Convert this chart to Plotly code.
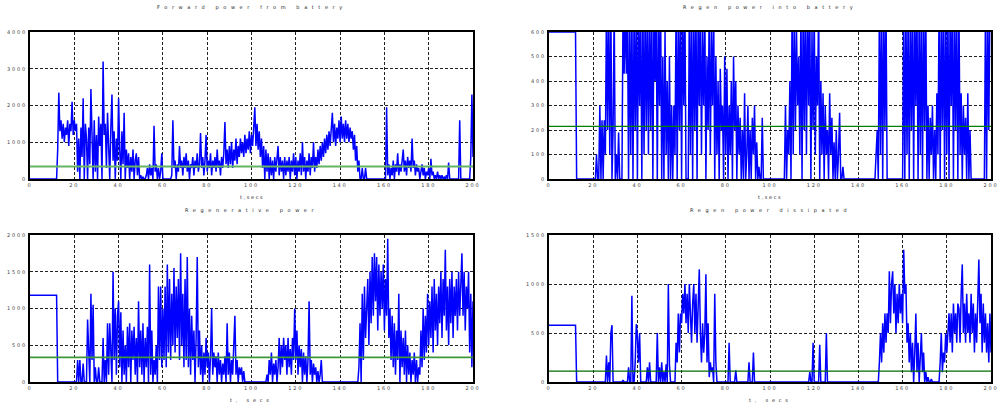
import plotly.graph_objects as go

# ---------------- data (sampled every 0.5 s, t = 0 ... 200 s) ----------------
fwd_power = [
    0, 0, 0, 0, 0, 0, 0, 0, 0, 0,                       # 0-4.5
    0, 0, 0, 0, 0, 0, 0, 0, 0, 0,                       # 5-9.5
    0, 0, 0, 0, 0, 800, 2350, 1300, 1600, 1100,         # 10-14.5
    1500, 1000, 1400, 1200, 1600, 900, 1500, 1300, 2100, 1200,
    1600, 1300, 1500, 200, 1100, 0, 1400, 600, 2200, 0,
    1500, 1100, 0, 1400, 400, 2450, 1300, 0, 1600, 200,
    1200, 0, 1700, 900, 1500, 0, 3200, 1200, 1500, 300,
    1800, 900, 0, 1400, 2300, 500, 1300, 0, 1100, 500,
    2200, 800, 0, 1300, 400, 1800, 0, 800, 300, 700,    # 40
    0, 600, 200, 800, 0, 500, 700, 100, 600, 0,
    100, 0, 50, 0, 0, 100, 300, 0, 400, 100,            # 50
    300, 0, 1450, 200, 400, 0, 300, 0, 200, 700,
    0, 0, 0, 0, 0, 0, 0, 0, 100, 1600,                  # 60
    300, 500, 0, 400, 200, 900, 300, 500, 100, 600,
    300, 700, 200, 500, 0, 400, 300, 600, 100, 500,     # 70
    300, 700, 200, 400, 1250, 300, 600, 100, 500, 1200,
    200, 500, 300, 700, 100, 500, 300, 600, 200, 800,   # 80
    300, 500, 100, 600, 300, 700, 1550, 400, 800, 300,
    900, 400, 1000, 300, 800, 500, 1100, 400, 900, 600, # 90
    1100, 700, 1000, 600, 1200, 700, 1100, 800, 1300, 700,
    1200, 900, 1400, 1950, 900, 1500, 800, 1300, 600, 1100,  # 100
    300, 900, 0, 800, 200, 700, 0, 600, 100, 500,
    0, 600, 200, 500, 900, 100, 600, 200, 500, 0,       # 110
    600, 100, 500, 200, 600, 0, 500, 200, 700, 100,
    600, 0, 500, 200, 700, 100, 1000, 200, 600, 0,      # 120
    500, 200, 700, 100, 600, 300, 1000, 200, 600, 300,
    800, 400, 900, 500, 1000, 600, 1100, 700, 1200, 800,  # 130
    1300, 900, 1400, 1800, 1000, 1500, 900, 1400, 1100, 1600,
    1000, 1700, 1100, 1500, 1000, 1600, 1100, 1500, 1000, 1400,  # 140
    1100, 1300, 800, 1200, 500, 900, 200, 500, 0, 0,
    300, 0, 0, 300, 0, 0, 0, 0, 0, 0,                   # 150
    0, 0, 0, 0, 0, 0, 0, 0, 0, 0,
    0, 0, 1950, 100, 400, 0, 300, 100, 500, 0,          # 160
    400, 200, 700, 100, 400, 200, 500, 800, 200, 500,
    100, 600, 300, 500, 200, 1100, 300, 500, 100, 400,  # 170
    200, 300, 0, 200, 400, 100, 300, 0, 200, 100,
    300, 0, 550, 100, 200, 0, 100, 0, 200, 0,           # 180
    100, 0, 100, 0, 50, 0, 100, 0, 450, 0,
    0, 0, 0, 0, 0, 0, 0, 0, 1600, 0,                    # 190
    0, 0, 0, 0, 0, 0, 0, 0, 600, 2300,
    600,                                                # 200
]

regen_into_batt = [
    600, 600, 600, 600, 600, 600, 600, 600, 600, 600,   # 0
    600, 600, 600, 600, 600, 600, 600, 600, 600, 600,
    600, 600, 600, 600, 600, 0, 0, 0, 0, 0,             # 10
    0, 0, 0, 0, 0, 0, 0, 0, 0, 0,
    0, 0, 0, 100, 0, 0, 300, 0, 240, 0,                 # 20
    240, 100, 700, 200, 700, 100, 700, 0, 200, 700,
    0, 100, 0, 190, 0, 0, 0, 700, 430, 700,             # 30
    430, 700, 0, 700, 100, 700, 0, 700, 200, 700,
    0, 700, 300, 700, 0, 700, 100, 700, 200, 700,       # 40
    100, 700, 200, 700, 0, 700, 400, 700, 0, 700,
    300, 700, 0, 500, 0, 600, 100, 400, 0, 500,         # 50
    0, 300, 0, 300, 100, 700, 0, 700, 200, 700,
    0, 700, 300, 700, 0, 0, 0, 700, 100, 700,           # 60
    0, 700, 200, 700, 0, 700, 300, 700, 100, 600,
    300, 700, 0, 500, 200, 700, 100, 600, 300, 700,     # 70
    0, 500, 100, 400, 0, 450, 200, 300, 0, 500,
    100, 450, 0, 300, 100, 400, 0, 500, 200, 400,       # 80
    0, 300, 100, 250, 0, 200, 0, 350, 0, 100,
    300, 0, 200, 0, 250, 100, 300, 0, 150, 0,           # 90
    50, 0, 0, 250, 0, 0, 0, 0, 0, 0,
    0, 0, 0, 0, 0, 0, 0, 0, 0, 0,                       # 100
    0, 0, 0, 0, 300, 0, 200, 100, 400, 0,
    700, 100, 700, 200, 600, 300, 500, 100, 700, 0,     # 110
    700, 200, 700, 100, 700, 300, 700, 0, 600, 200,
    700, 100, 500, 300, 700, 0, 400, 100, 350, 0,       # 120
    300, 100, 200, 0, 350, 100, 250, 0, 150, 0,
    200, 0, 100, 270, 0, 0, 50, 0, 0, 0,                # 130
    0, 0, 0, 0, 0, 0, 0, 0, 0, 0,
    0, 0, 0, 0, 0, 0, 0, 0, 0, 0,                       # 140
    0, 0, 0, 0, 0, 0, 100, 200, 0, 700,
    100, 700, 0, 700, 200, 700, 0, 0, 0, 0,             # 150
    0, 0, 0, 0, 0, 0, 0, 0, 0, 0,
    0, 700, 0, 700, 100, 700, 0, 700, 200, 700,         # 160
    0, 700, 300, 700, 0, 700, 100, 700, 0, 700,
    200, 700, 0, 300, 0, 250, 100, 300, 0, 200,         # 170
    0, 350, 100, 700, 0, 700, 200, 700, 0, 700,
    100, 700, 0, 700, 300, 700, 0, 700, 200, 700,       # 180
    0, 700, 100, 350, 0, 300, 100, 250, 0, 350,
    0, 200, 0, 0, 0, 0, 0, 0, 0, 0,                     # 190
    0, 0, 0, 0, 0, 700, 0, 700, 200, 700,
    700,                                                # 200
]

regen_power = [
    1180, 1180, 1180, 1180, 1180, 1180, 1180, 1180, 1180, 1180,  # 0
    1180, 1180, 1180, 1180, 1180, 1180, 1180, 1180, 1180, 1180,
    1180, 1180, 1180, 1180, 1180, 0, 0, 0, 0, 0,                 # 10
    0, 0, 0, 0, 0, 0, 0, 0, 0, 0,
    0, 0, 0, 300, 0, 300, 0, 0, 250, 0,                          # 20
    0, 0, 850, 500, 0, 1200, 300, 1050, 0, 200,
    0, 0, 200, 0, 0, 0, 600, 0, 300, 0,                          # 30
    800, 100, 800, 200, 0, 1500, 300, 1000, 100, 900,
    1100, 200, 950, 0, 700, 100, 500, 0, 750, 200,               # 40
    800, 0, 700, 300, 750, 100, 600, 0, 1100, 200,
    700, 100, 800, 0, 600, 200, 750, 0, 1600, 100,               # 50
    700, 0, 300, 100, 500, 0, 1300, 300, 1300, 200,
    1000, 300, 1300, 200, 1600, 400, 1400, 300, 1200, 500,       # 60
    1550, 400, 1300, 600, 1400, 300, 1750, 500, 1200, 200,
    1400, 300, 1700, 200, 1000, 100, 900, 300, 700, 0,           # 70
    600, 1700, 200, 700, 100, 500, 0, 400, 100, 600,
    200, 400, 0, 350, 1000, 100, 400, 200, 350, 0,               # 80
    400, 100, 300, 0, 250, 100, 350, 0, 800, 100,
    400, 0, 300, 100, 400, 900, 100, 300, 0, 200,                # 90
    100, 200, 0, 150, 0, 0, 0, 0, 0, 0,
    0, 0, 0, 0, 0, 0, 0, 0, 0, 0,                                # 100
    0, 0, 0, 0, 100, 0, 300, 100, 400, 0,
    250, 100, 300, 0, 200, 600, 100, 500, 200, 600,              # 110
    300, 500, 100, 600, 200, 450, 100, 600, 300, 1000,
    300, 700, 100, 500, 200, 450, 0, 400, 100, 350,              # 120
    0, 300, 1100, 100, 300, 0, 250, 100, 200, 0,
    150, 0, 100, 300, 0, 0, 0, 0, 0, 0,                          # 130
    0, 0, 0, 0, 0, 0, 0, 0, 0, 0,
    0, 0, 0, 0, 0, 0, 0, 0, 0, 0,                                # 140
    0, 0, 0, 0, 0, 0, 0, 200, 800, 0,
    1200, 300, 1300, 600, 1000, 1400, 500, 1500, 800, 1700,      # 150
    900, 1750, 1100, 1700, 700, 1600, 900, 1500, 1000, 1600,
    700, 1400, 900, 1950, 600, 1000, 300, 900, 200, 800,         # 160
    100, 700, 300, 1200, 0, 700, 200, 600, 100, 700,
    0, 500, 100, 400, 0, 300, 100, 400, 0, 300,                  # 170
    0, 200, 100, 700, 200, 1000, 300, 900, 400, 1200,
    500, 1100, 600, 1300, 400, 1400, 700, 1200, 500, 1300,       # 180
    800, 1500, 600, 1400, 900, 1800, 700, 1300, 500, 1400,
    800, 1500, 600, 1300, 900, 1400, 700, 1500, 900, 1300,       # 190
    1750, 900, 1500, 700, 1300, 1000, 1500, 400, 1200, 200,
    1100,                                                        # 200
]

regen_dissipated = [
    580, 580, 580, 580, 580, 580, 580, 580, 580, 580,   # 0
    580, 580, 580, 580, 580, 580, 580, 580, 580, 580,
    580, 580, 580, 580, 580, 0, 0, 0, 0, 0,             # 10
    0, 0, 0, 0, 0, 0, 0, 0, 0, 0,
    0, 0, 0, 0, 0, 0, 0, 0, 0, 0,                       # 20
    0, 0, 270, 0, 200, 0, 500, 580, 0, 0,
    0, 0, 0, 0, 0, 0, 0, 20, 0, 0,                      # 30
    0, 0, 150, 0, 0, 880, 0, 0, 200, 590,
    460, 200, 500, 0, 0, 0, 0, 0, 0, 150,               # 40
    0, 200, 0, 0, 0, 0, 0, 0, 500, 0,
    150, 0, 200, 0, 100, 0, 180, 0, 1000, 180,          # 50
    0, 0, 0, 0, 0, 400, 200, 700, 300, 700,
    600, 900, 700, 1000, 600, 900, 500, 1000, 700, 400, # 60
    800, 1000, 500, 900, 400, 800, 1150, 500, 200, 600,
    300, 500, 1100, 200, 600, 50, 200, 100, 150, 0,     # 70
    900, 200, 0, 0, 0, 0, 0, 0, 0, 0,
    0, 0, 0, 400, 0, 0, 0, 0, 0, 120,                   # 80
    0, 0, 0, 0, 0, 0, 0, 0, 0, 0,
    0, 200, 0, 0, 0, 300, 0, 0, 0, 0,                   # 90
    0, 0, 0, 0, 0, 0, 0, 0, 0, 0,
    0, 0, 0, 0, 0, 0, 0, 0, 0, 0,                       # 100
    0, 0, 0, 0, 0, 0, 0, 0, 0, 0,
    0, 0, 0, 0, 0, 0, 0, 0, 0, 0,                       # 110
    0, 0, 0, 0, 0, 0, 100, 0, 0, 400,
    0, 0, 0, 0, 0, 380, 0, 0, 0, 0,                     # 120
    0, 500, 0, 0, 0, 0, 0, 0, 0, 0,
    0, 0, 0, 0, 0, 0, 0, 0, 0, 0,                       # 130
    0, 0, 0, 0, 0, 0, 0, 0, 0, 0,
    0, 0, 0, 0, 0, 0, 0, 0, 0, 0,                       # 140
    0, 0, 0, 0, 0, 0, 0, 0, 0, 200,
    500, 200, 600, 300, 700, 400, 700, 500, 1130, 600,  # 150
    1000, 1130, 700, 1000, 500, 900, 600, 1000, 700, 900,
    600, 1350, 900, 1000, 400, 600, 200, 500, 100, 400, # 160
    0, 300, 700, 100, 400, 0, 300, 500, 100, 300,
    0, 100, 0, 50, 0, 0, 30, 0, 0, 0,                   # 170
    0, 0, 0, 0, 200, 500, 100, 300, 200, 500,
    300, 600, 700, 400, 700, 300, 800, 500, 700, 400,   # 180
    800, 750, 400, 900, 1200, 500, 800, 400, 900, 500,
    700, 400, 900, 500, 800, 300, 700, 400, 900, 1250,  # 190
    600, 900, 300, 800, 400, 700, 300, 600, 200, 700,
    300,                                                # 200
]

# mean (green) levels
mean_levels = [340, 215, 335, 110]

titles = ["Forward power from battery", "Regen power into battery",
          "Regenerative power", "Regen power dissipated"]
xlabels = ["t,secs", "t,secs", "t, secs", "t, secs"]
x_ticks = [0, 20, 40, 60, 80, 100, 120, 140, 160, 180, 200]
y_ranges = [[0, 4000], [0, 600], [0, 2000], [0, 1500]]
y_ticks = [
    [0, 1000, 2000, 3000, 4000],
    [0, 100, 200, 300, 400, 500, 600],
    [0, 500, 1000, 1500, 2000],
    [0, 500, 1000, 1500],
]

series = [fwd_power, regen_into_batt, regen_power, regen_dissipated]

# ---------------- figure ----------------
W, H = 998, 408
xdom = [[30 / W, 473 / W], [549 / W, 991 / W], [30 / W, 473 / W], [549 / W, 991 / W]]
ydom = [[1 - 179 / H, 1 - 32 / H], [1 - 179 / H, 1 - 32 / H],
        [1 - 382 / H, 1 - 235 / H], [1 - 382 / H, 1 - 235 / H]]
green_cols = ["rgb(100,180,100)", "rgb(0,128,0)", "rgb(60,150,60)", "rgb(0,110,0)"]
green_w = [2, 1.2, 1.6, 1.2]


def spaced(s, sp):
    return '<span style="letter-spacing:%spx">%s</span>' % (sp, s)


fig = go.Figure()
layout = dict(width=W, height=H, autosize=False,
              margin=dict(l=0, r=0, t=0, b=0),
              paper_bgcolor="white", plot_bgcolor="white",
              showlegend=False, annotations=[])

for i in range(4):
    n = i + 1
    xa = "x" if n == 1 else "x%d" % n
    ya = "y" if n == 1 else "y%d" % n
    vals = series[i]
    t = [k * 0.5 for k in range(len(vals))]
    fig.add_trace(go.Scatter(x=t, y=vals, xaxis=xa, yaxis=ya, mode="lines",
                             line=dict(color="#0000ff", width=1.5),
                             hoverinfo="skip"))
    fig.add_trace(go.Scatter(x=[0, 200], y=[mean_levels[i]] * 2, xaxis=xa, yaxis=ya,
                             mode="lines",
                             line=dict(color=green_cols[i], width=green_w[i]),
                             hoverinfo="skip"))
    axcommon = dict(showline=True, linecolor="black", linewidth=2, mirror=True,
                    showgrid=True, gridcolor="#222222", gridwidth=1,
                    griddash="3px,2px", zeroline=False, ticks="",
                    ticklabeloverflow="allow",
                    tickfont=dict(family="DejaVu Sans", size=5, color="#444444"),
                    automargin=False, fixedrange=True)
    if i == 1:
        axcommon["layer"] = "below traces"
    layout["xaxis" if n == 1 else "xaxis%d" % n] = dict(
        axcommon, domain=xdom[i], range=[0, 200], anchor=ya,
        tickvals=x_ticks, ticktext=[spaced(str(v), 1.8) for v in x_ticks])
    layout["yaxis" if n == 1 else "yaxis%d" % n] = dict(
        axcommon, domain=ydom[i], range=y_ranges[i], anchor=xa,
        tickvals=y_ticks[i], ticktext=[spaced(str(v), 1.8) for v in y_ticks[i]])
    cx = (xdom[i][0] + xdom[i][1]) / 2
    top = ydom[i][1]
    bot = ydom[i][0]
    layout["annotations"].append(dict(
        text=spaced(titles[i], 4.6), x=cx, y=top + 24 / H, xref="paper", yref="paper",
        xanchor="center", yanchor="middle", showarrow=False,
        font=dict(family="DejaVu Sans", size=5, color="#222222")))
    xl_sp = 1.6 if i < 2 else 3.8
    layout["annotations"].append(dict(
        text=spaced(xlabels[i], xl_sp), x=cx, y=bot - 18 / H, xref="paper", yref="paper",
        xanchor="center", yanchor="middle", showarrow=False,
        font=dict(family="DejaVu Sans", size=5, color="#222222")))

fig.update_layout(**layout)
# remove the browser's default 8 px body margin so the figure sits at (0, 0)
fig.write_html("out.html", config={"displayModeBar": False},
               post_script="document.body.style.margin='0';")
